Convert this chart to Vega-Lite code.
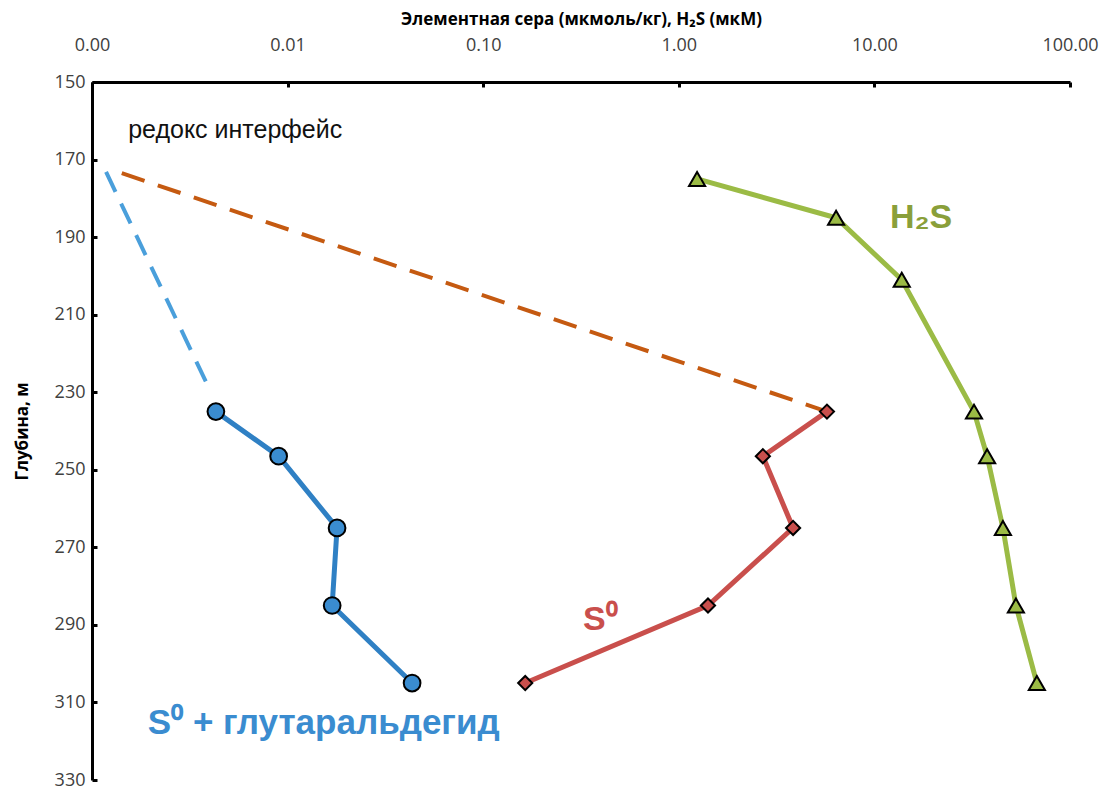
{
  "$schema": "https://vega.github.io/schema/vega-lite/v6.json",
  "autosize": "none",
  "width": 978,
  "height": 698,
  "padding": {"left": 92, "top": 82, "right": 33, "bottom": 8},
  "background": "white",
  "config": {
    "view": {"stroke": null},
    "axis": {
      "grid": false,
      "domainColor": "black",
      "domainWidth": 3,
      "tickColor": "black",
      "tickWidth": 3,
      "tickSize": -5,
      "labelColor": "#404040",
      "labelFont": "Open Sans",
      "labelFontSize": 18,
      "labelFlush": false,
      "titleFont": "Open Sans",
      "titleFontWeight": "bold",
      "titleFontSize": 17,
      "titleColor": "black"
    }
  },
  "datasets": {
    "pts": [
      {"series": "S0g", "conc": 0.0043, "depth": 235},
      {"series": "S0g", "conc": 0.0090, "depth": 246.5},
      {"series": "S0g", "conc": 0.0179, "depth": 265},
      {"series": "S0g", "conc": 0.0169, "depth": 285},
      {"series": "S0g", "conc": 0.0433, "depth": 305},
      {"series": "S0", "conc": 5.72, "depth": 235},
      {"series": "S0", "conc": 2.69, "depth": 246.5},
      {"series": "S0", "conc": 3.84, "depth": 265},
      {"series": "S0", "conc": 1.41, "depth": 285},
      {"series": "S0", "conc": 0.164, "depth": 305},
      {"series": "H2S", "conc": 1.24, "depth": 175},
      {"series": "H2S", "conc": 6.37, "depth": 185},
      {"series": "H2S", "conc": 13.8, "depth": 201},
      {"series": "H2S", "conc": 32.3, "depth": 235},
      {"series": "H2S", "conc": 37.7, "depth": 246.5},
      {"series": "H2S", "conc": 45.4, "depth": 265},
      {"series": "H2S", "conc": 52.9, "depth": 285},
      {"series": "H2S", "conc": 67.7, "depth": 305}
    ],
    "dash": [
      {"series": "S0g", "conc": 0.00118, "depth": 173.2},
      {"series": "S0g", "conc": 0.00401, "depth": 229.5},
      {"series": "S0", "conc": 0.00142, "depth": 173.5},
      {"series": "S0", "conc": 5.72, "depth": 235}
    ],
    "labels": [
      {"text": "редокс интерфейс", "conc": 0.00153, "depth": 162.4, "kind": "redox"},
      {"text": "H₂S", "conc": 12.0, "depth": 185.1, "kind": "H2S"},
      {"text": "S⁰", "conc": 0.324, "depth": 288.8, "kind": "S0"},
      {"text": "S⁰ + глутаральдегид", "conc": 0.00193, "depth": 315.4, "kind": "S0g"}
    ]
  },
  "encoding": {
    "x": {
      "field": "conc", "type": "quantitative",
      "scale": {"type": "log", "domain": [0.001, 100], "nice": false},
      "axis": {
        "orient": "top",
        "values": [0.001, 0.01, 0.1, 1, 10, 100],
        "format": ".2f",
        "title": "Элементная сера (мкмоль/кг), H₂S (мкМ)",
        "labelPadding": 33,
        "titlePadding": 8
      }
    },
    "y": {
      "field": "depth", "type": "quantitative",
      "scale": {"domain": [150, 330], "reverse": true, "nice": false, "zero": false},
      "axis": {
        "values": [150, 170, 190, 210, 230, 250, 270, 290, 310, 330],
        "title": "Глубина, м",
        "labelPadding": 12,
        "titlePadding": 23
      }
    }
  },
  "layer": [
    {
      "mark": {"type": "rule", "color": "#2DB34A", "strokeDash": [2, 5], "strokeWidth": 2.5},
      "encoding": {"x": null, "y": {"datum": 170, "type": "quantitative"}}
    },
    {
      "data": {"name": "dash"},
      "transform": [{"filter": "datum.series === 'S0g'"}],
      "mark": {"type": "line", "strokeWidth": 4, "strokeDash": [22, 13], "color": "#4A9FDB"}
    },
    {
      "data": {"name": "dash"},
      "transform": [{"filter": "datum.series === 'S0'"}],
      "mark": {"type": "line", "strokeWidth": 4, "strokeDash": [24, 14], "color": "#C55A11"}
    },
    {
      "data": {"name": "pts"},
      "transform": [{"filter": "datum.series === 'S0g'"}],
      "mark": {"type": "line", "strokeWidth": 5, "color": "#2F80C4"},
      "encoding": {"order": {"field": "depth"}}
    },
    {
      "data": {"name": "pts"},
      "transform": [{"filter": "datum.series === 'S0'"}],
      "mark": {"type": "line", "strokeWidth": 5, "color": "#C94F4C"},
      "encoding": {"order": {"field": "depth"}}
    },
    {
      "data": {"name": "pts"},
      "transform": [{"filter": "datum.series === 'H2S'"}],
      "mark": {"type": "line", "strokeWidth": 5, "color": "#9BBB45"},
      "encoding": {"order": {"field": "depth"}}
    },
    {
      "data": {"name": "pts"},
      "transform": [{"filter": "datum.series === 'S0g'"}],
      "mark": {"type": "point", "shape": "circle", "size": 280, "filled": true, "fill": "#3A8CD0", "stroke": "black", "strokeWidth": 2, "opacity": 1}
    },
    {
      "data": {"name": "pts"},
      "transform": [{"filter": "datum.series === 'S0'"}],
      "mark": {"type": "point", "shape": "diamond", "size": 200, "filled": true, "fill": "#C94F4C", "stroke": "black", "strokeWidth": 2, "opacity": 1}
    },
    {
      "data": {"name": "pts"},
      "transform": [{"filter": "datum.series === 'H2S'"}],
      "mark": {"type": "point", "shape": "triangle-up", "size": 260, "filled": true, "fill": "#9BBB45", "stroke": "black", "strokeWidth": 2, "opacity": 1}
    },
    {
      "data": {"name": "labels"},
      "transform": [{"filter": "datum.kind === 'redox'"}],
      "mark": {"type": "text", "align": "left", "baseline": "middle", "font": "Liberation Sans", "fontSize": 25, "color": "#111111"},
      "encoding": {"text": {"field": "text"}}
    },
    {
      "data": {"name": "labels"},
      "transform": [{"filter": "datum.kind === 'S0g'"}],
      "mark": {"type": "text", "align": "left", "baseline": "middle", "font": "Liberation Sans", "fontWeight": "bold", "fontSize": 35, "color": "#3A8CD0"},
      "encoding": {"text": {"field": "text"}}
    },
    {
      "data": {"name": "labels"},
      "transform": [{"filter": "datum.kind === 'S0'"}],
      "mark": {"type": "text", "align": "left", "baseline": "middle", "font": "Liberation Sans", "fontWeight": "bold", "fontSize": 34, "color": "#C94F4C"},
      "encoding": {"text": {"field": "text"}}
    },
    {
      "data": {"name": "labels"},
      "transform": [{"filter": "datum.kind === 'H2S'"}],
      "mark": {"type": "text", "align": "left", "baseline": "middle", "font": "Liberation Sans", "fontWeight": "bold", "fontSize": 34, "color": "#8A9F3A"},
      "encoding": {"text": {"field": "text"}}
    }
  ]
}
